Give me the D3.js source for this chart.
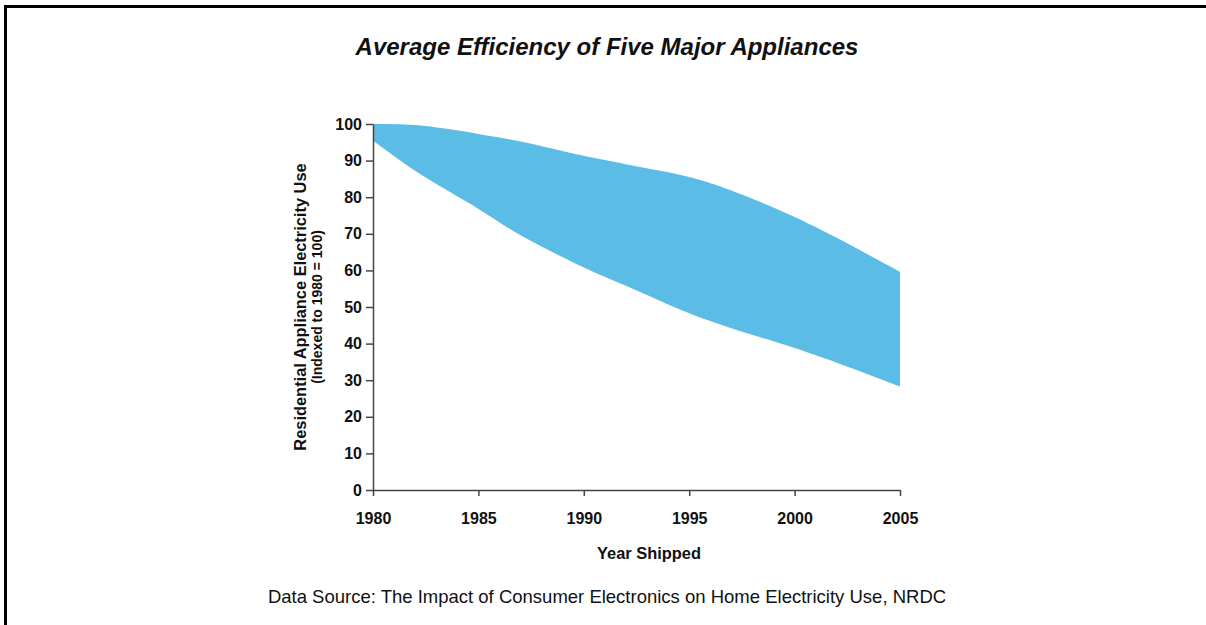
<!DOCTYPE html>
<html>
<head>
<meta charset="utf-8">
<script src="https://cdn.jsdelivr.net/npm/d3@7"></script>
<style>
  body { margin: 0; background: #fff; }
  svg text { font-family: "Liberation Sans", Arial, sans-serif; fill: #111; }
</style>
</head>
<body>
<script>
/* efficiency band chart */

var years = [1980, 1982, 1985, 1987, 1990, 1992, 1995, 1997, 2000, 2002, 2005];
var upper = [100, 99.7, 97.3, 95.2, 91.3, 89.0, 85.5, 81.8, 74.6, 68.9, 59.6];
var lower = [95.5, 87.2, 76.8, 69.6, 60.8, 55.8, 48.3, 44.2, 38.8, 34.8, 28.3];
var yTicks = [0, 10, 20, 30, 40, 50, 60, 70, 80, 90, 100];
var xTicks = [1980, 1985, 1990, 1995, 2000, 2005];

var width = 1206, height = 625;

var svg = d3.select("body").append("svg")
    .attr("width", width)
    .attr("height", height);

// frame lines (top + left)
svg.append("line").attr("x1", 5.5).attr("x2", width).attr("y1", 6.5).attr("y2", 6.5)
    .attr("stroke", "#000").attr("stroke-width", 3);
svg.append("line").attr("x1", 5.5).attr("x2", 5.5).attr("y1", 5).attr("y2", height)
    .attr("stroke", "#000").attr("stroke-width", 3);

var x = d3.scaleLinear().domain([1980, 2005]).range([373, 900]);
var y = d3.scaleLinear().domain([0, 100]).range([490, 124]);

var band = years.map(function(d, i) {
    return { year: d, hi: upper[i], lo: lower[i] };
});

var area = d3.area()
    .x(function(d) { return x(d.year); })
    .y0(function(d) { return y(d.lo); })
    .y1(function(d) { return y(d.hi); })
    .curve(d3.curveCatmullRom.alpha(0.5));

svg.append("path")
    .datum(band)
    .attr("fill", "#5bbce6")
    .attr("d", area);

var yAxis = svg.append("g")
    .attr("transform", "translate(373,0)")
    .call(d3.axisLeft(y).tickValues(yTicks).tickSize(7).tickSizeOuter(0).tickPadding(4));

var xAxis = svg.append("g")
    .attr("transform", "translate(0,490)")
    .call(d3.axisBottom(x).tickValues(xTicks).tickFormat(d3.format("d")).tickSize(6).tickSizeOuter(0).tickPadding(17));

[yAxis, xAxis].forEach(function(a) {
    a.selectAll("path, line").attr("stroke", "#444").attr("stroke-width", 1.5);
    a.selectAll("text")
        .style("font-family", "'Liberation Sans', Arial, sans-serif")
        .style("font-size", "16px")
        .style("font-weight", "bold")
        .attr("fill", "#111");
});

svg.append("text")
    .attr("x", 607).attr("y", 55)
    .attr("text-anchor", "middle")
    .style("font-size", "24px")
    .style("font-weight", "bold")
    .style("font-style", "italic")
    .text("Average Efficiency of Five Major Appliances");

svg.append("text")
    .attr("transform", "translate(306,307) rotate(-90)")
    .attr("text-anchor", "middle")
    .style("font-size", "16.4px")
    .style("font-weight", "bold")
    .text("Residential Appliance Electricity Use");

svg.append("text")
    .attr("transform", "translate(322,307) rotate(-90)")
    .attr("text-anchor", "middle")
    .style("font-size", "14px")
    .style("font-weight", "bold")
    .text("(Indexed to 1980 = 100)");

svg.append("text")
    .attr("x", 649).attr("y", 559)
    .attr("text-anchor", "middle")
    .style("font-size", "16.4px")
    .style("font-weight", "bold")
    .text("Year Shipped");

svg.append("text")
    .attr("x", 607).attr("y", 603)
    .attr("text-anchor", "middle")
    .style("font-size", "18.5px")
    .text("Data Source: The Impact of Consumer Electronics on Home Electricity Use, NRDC");
</script>
</body>
</html>
